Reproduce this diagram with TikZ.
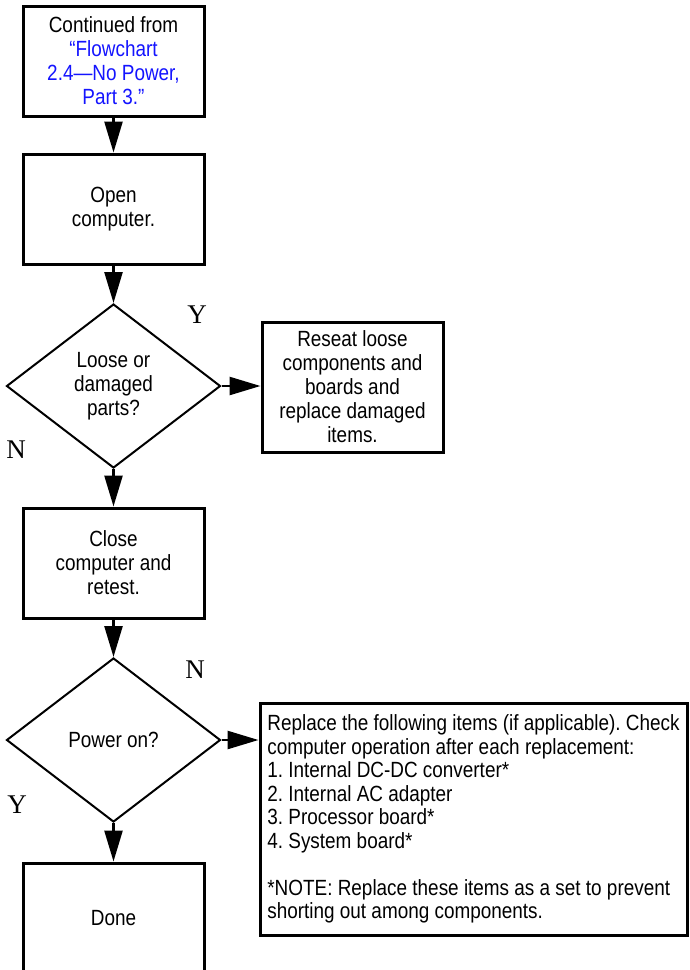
\documentclass[tikz,border=0pt]{standalone}
\usepackage{fontspec}
\setmainfont{Liberation Sans}[FakeStretch=0.86]
\newfontfamily\ynfont{Liberation Serif}
\usepackage{tikz}
\usetikzlibrary{shapes.geometric}
\usetikzlibrary{arrows.meta}
\definecolor{linkblue}{RGB}{20,20,255}
\frenchspacing

\begin{document}
\begin{tikzpicture}[x=1pt,y=-1pt,
    box/.style={draw, line width=3pt, minimum width=181pt, minimum height=110pt,
        inner sep=0pt, align=center, font=\fontsize{22}{24}\selectfont},
    ask/.style={draw, diamond, line width=2pt, minimum width=214pt, minimum height=164pt,
        inner sep=0pt, align=center, font=\fontsize{22}{24}\selectfont},
    flow/.style={line width=2.5pt, -{Triangle[length=31pt,width=18pt]}},
    yn/.style={font=\ynfont\fontsize{27}{27}\selectfont}]
    \useasboundingbox (0,0) rectangle (689,970);

    % main column
    \node[box] (start) at (113.5,61) {Continued from\\\textcolor{linkblue}{“Flowchart}\\
        \textcolor{linkblue}{2.4—No Power,}\\\textcolor{linkblue}{Part 3.”}};
    \node[box] (open) at (113.5,209) {Open\\computer.};
    \node[ask] (loose) at (113.5,386) {Loose or\\damaged\\parts?};
    \node[box] (close) at (113.5,563) {Close\\computer and\\retest.};
    \node[ask] (power) at (113.5,740) {Power on?};
    \node[box] (done) at (113.5,918) {Done};

    % side boxes
    \node[box, minimum height=130pt] (reseat) at (352.5,387) {Reseat loose\\components and\\
        boards and\\replace damaged\\items.};
    \node[box, minimum width=427pt, minimum height=232pt, align=left,
        font=\fontsize{22}{23.5}\selectfont] (swap) at (473.5,819)
        {Replace the following items (if applicable). Check\\
        computer operation after each replacement:\\
        1. Internal DC-DC converter*\\
        2. Internal AC adapter\\
        3. Processor board*\\
        4. System board*\\[23.5pt]
        *NOTE: Replace these items as a set to prevent\\
        shorting out among components.};

    % Y / N
    \node[yn] (y1) at (197,315) {Y};
    \node[yn] (n1) at (16,450) {N};
    \node[yn] (n2) at (195,670) {N};
    \node[yn] (y2) at (17,805) {Y};

    \draw[flow] (start) -- (open);
    \draw[flow] (open) -- (loose);
    \draw[flow] (loose.east) -- (loose.east -| reseat.west);
    \draw[flow] (loose) -- (close);
    \draw[flow] (close) -- (power);
    \draw[flow] (power.east) -- (power.east -| swap.west);
    \draw[flow] (power) -- (done);
\end{tikzpicture}
\end{document}
